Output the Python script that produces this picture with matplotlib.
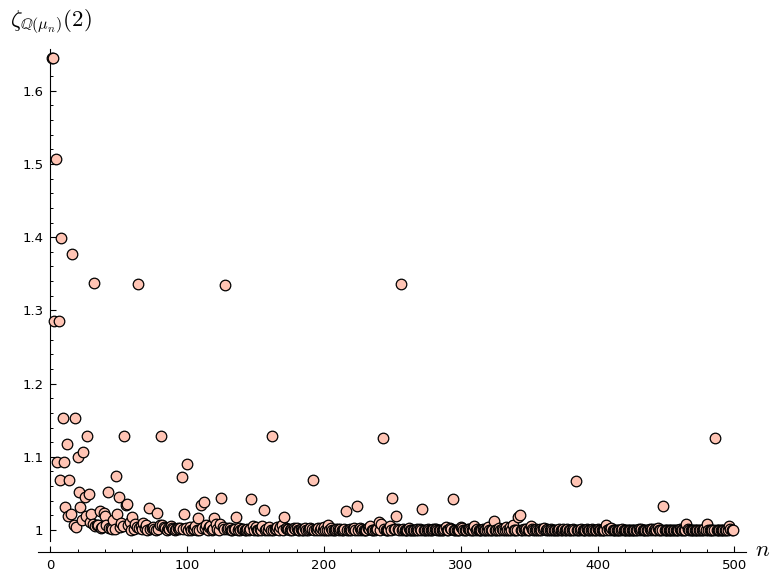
import matplotlib
matplotlib.use("Agg")
import matplotlib.pyplot as plt
from matplotlib.ticker import MultipleLocator, FuncFormatter

# n = 1 .. 499 and the value of zeta_{Q(mu_n)}(2)
n_vals = list(range(1, 500))
zeta_vals = [
    1.6449, 1.6449, 1.2852, 1.5067, 1.0925, 1.2852, 1.0678, 1.3990, 1.1532, 1.0925,
    1.0321, 1.1177, 1.0194, 1.0678, 1.0221, 1.3768, 1.0067, 1.1532, 1.0042, 1.0994,
    1.0513, 1.0321, 1.0138, 1.1063, 1.0454, 1.0194, 1.1284, 1.0493, 1.0104, 1.0221,
    1.0082, 1.3374, 1.0057, 1.0067, 1.0062, 1.0260, 1.0034, 1.0042, 1.0230, 1.0189,
    1.0067, 1.0513, 1.0024, 1.0032, 1.0016, 1.0138, 1.0012, 1.0738, 1.0223, 1.0454,
    1.0039, 1.0102, 1.0052, 1.1284, 1.0344, 1.0360, 1.0068, 1.0104, 1.0005, 1.0176,
    1.0009, 1.0082, 1.0043, 1.3359, 1.0032, 1.0057, 1.0012, 1.0092, 1.0032, 1.0062,
    1.0005, 1.0305, 1.0017, 1.0034, 1.0037, 1.0011, 1.0005, 1.0230, 1.0011, 1.0062,
    1.1279, 1.0067, 1.0036, 1.0024, 1.0002, 1.0024, 1.0009, 1.0059, 1.0031, 1.0016,
    1.0005, 1.0010, 1.0026, 1.0012, 1.0025, 1.0719, 1.0009, 1.0223, 1.0021, 1.0899,
    1.0006, 1.0039, 1.0004, 1.0009, 1.0017, 1.0052, 1.0004, 1.0160, 1.0003, 1.0344,
    1.0031, 1.0382, 1.0025, 1.0068, 1.0007, 1.0041, 1.0057, 1.0005, 1.0020, 1.0169,
    1.0089, 1.0009, 1.0003, 1.0077, 1.0438, 1.0043, 1.0017, 1.3352, 1.0012, 1.0032,
    1.0021, 1.0006, 1.0002, 1.0012, 1.0014, 1.0181, 1.0003, 1.0032, 1.0005, 1.0011,
    1.0013, 1.0005, 1.0002, 1.0013, 1.0001, 1.0017, 1.0423, 1.0049, 1.0002, 1.0037,
    1.0002, 1.0005, 1.0013, 1.0005, 1.0061, 1.0268, 1.0001, 1.0011, 1.0001, 1.0042,
    1.0002, 1.1279, 1.0004, 1.0014, 1.0012, 1.0036, 1.0001, 1.0036, 1.0063, 1.0002,
    1.0172, 1.0029, 1.0015, 1.0009, 1.0003, 1.0009, 1.0003, 1.0031, 1.0014, 1.0022,
    1.0002, 1.0005, 1.0017, 1.0001, 1.0000, 1.0026, 1.0001, 1.0001, 1.0010, 1.0025,
    1.0013, 1.0689, 1.0004, 1.0009, 1.0001, 1.0026, 1.0000, 1.0021, 1.0003, 1.0040,
    1.0005, 1.0006, 1.0072, 1.0007, 1.0027, 1.0004, 1.0002, 1.0001, 1.0011, 1.0017,
    1.0000, 1.0008, 1.0002, 1.0004, 1.0009, 1.0257, 1.0001, 1.0003, 1.0012, 1.0006,
    1.0010, 1.0031, 1.0000, 1.0325, 1.0000, 1.0025, 1.0000, 1.0018, 1.0000, 1.0007,
    1.0006, 1.0022, 1.0011, 1.0057, 1.0002, 1.0003, 1.0003, 1.0020, 1.0010, 1.0103,
    1.0000, 1.0089, 1.1258, 1.0009, 1.0007, 1.0003, 1.0000, 1.0060, 1.0007, 1.0438,
    1.0010, 1.0017, 1.0193, 1.0017, 1.0004, 1.3363, 1.0001, 1.0012, 1.0000, 1.0004,
    1.0006, 1.0021, 1.0000, 1.0004, 1.0002, 1.0002, 1.0002, 1.0018, 1.0000, 1.0014,
    1.0000, 1.0283, 1.0007, 1.0003, 1.0000, 1.0013, 1.0002, 1.0005, 1.0002, 1.0013,
    1.0009, 1.0013, 1.0000, 1.0006, 1.0005, 1.0002, 1.0000, 1.0011, 1.0035, 1.0001,
    1.0002, 1.0021, 1.0009, 1.0423, 1.0000, 1.0004, 1.0000, 1.0002, 1.0007, 1.0035,
    1.0033, 1.0002, 1.0005, 1.0000, 1.0011, 1.0013, 1.0000, 1.0003, 1.0007, 1.0061,
    1.0000, 1.0011, 1.0000, 1.0001, 1.0004, 1.0016, 1.0000, 1.0001, 1.0000, 1.0042,
    1.0005, 1.0002, 1.0007, 1.0126, 1.0000, 1.0004, 1.0002, 1.0024, 1.0006, 1.0012,
    1.0000, 1.0000, 1.0044, 1.0001, 1.0000, 1.0047, 1.0000, 1.0063, 1.0000, 1.0001,
    1.0007, 1.0172, 1.0208, 1.0000, 1.0004, 1.0015, 1.0000, 1.0009, 1.0000, 1.0003,
    1.0055, 1.0013, 1.0000, 1.0003, 1.0008, 1.0003, 1.0000, 1.0014, 1.0007, 1.0010,
    1.0028, 1.0002, 1.0008, 1.0002, 1.0000, 1.0017, 1.0000, 1.0000, 1.0004, 1.0000,
    1.0006, 1.0009, 1.0000, 1.0001, 1.0020, 1.0000, 1.0000, 1.0010, 1.0000, 1.0003,
    1.0001, 1.0013, 1.0000, 1.0669, 1.0000, 1.0004, 1.0000, 1.0015, 1.0000, 1.0001,
    1.0000, 1.0008, 1.0004, 1.0000, 1.0000, 1.0008, 1.0000, 1.0003, 1.0000, 1.0010,
    1.0000, 1.0005, 1.0000, 1.0005, 1.0005, 1.0072, 1.0000, 1.0008, 1.0000, 1.0027,
    1.0004, 1.0000, 1.0005, 1.0002, 1.0000, 1.0000, 1.0001, 1.0011, 1.0006, 1.0006,
    1.0000, 1.0000, 1.0000, 1.0000, 1.0000, 1.0002, 1.0000, 1.0003, 1.0003, 1.0009,
    1.0006, 1.0011, 1.0000, 1.0001, 1.0000, 1.0002, 1.0000, 1.0012, 1.0000, 1.0008,
    1.0003, 1.0010, 1.0006, 1.0029, 1.0000, 1.0000, 1.0000, 1.0327, 1.0000, 1.0000,
    1.0000, 1.0002, 1.0005, 1.0000, 1.0003, 1.0007, 1.0000, 1.0000, 1.0003, 1.0008,
    1.0000, 1.0006, 1.0000, 1.0003, 1.0084, 1.0011, 1.0000, 1.0002, 1.0000, 1.0002,
    1.0001, 1.0000, 1.0005, 1.0003, 1.0000, 1.0002, 1.0000, 1.0010, 1.0000, 1.0079,
    1.0000, 1.0000, 1.0003, 1.0001, 1.0004, 1.1258, 1.0000, 1.0003, 1.0001, 1.0007,
    1.0005, 1.0000, 1.0000, 1.0000, 1.0003, 1.0060, 1.0012, 1.0007, 1.0000,
]

plt.rcParams['mathtext.fontset'] = 'cm'

W, H = 781, 583
fig = plt.figure(figsize=(W / 100, H / 100), dpi=100)
ax = fig.add_axes([38 / W, 1 - 541 / H, (746 - 38) / W, (541 - 49) / H])

ax.scatter(n_vals, zeta_vals, s=58, facecolor='#ffc4b4', edgecolor='black',
           linewidth=0.9, zorder=3, clip_on=False)

ax.set_xlim(-9, 508.5)
ax.set_ylim(0.985, 1.657)

# sage-like axes: y axis through x=0, x axis pushed below the data
ax.spines['top'].set_visible(False)
ax.spines['right'].set_visible(False)
ax.spines['left'].set_position(('data', 0))
ax.spines['bottom'].set_position(('outward', 8))

ax.xaxis.set_major_locator(MultipleLocator(100))
ax.xaxis.set_minor_locator(MultipleLocator(20))
ax.yaxis.set_major_locator(MultipleLocator(0.1))
ax.yaxis.set_minor_locator(MultipleLocator(0.02))
ax.yaxis.set_major_formatter(FuncFormatter(lambda v, p: f"{round(v, 2):g}"))
ax.tick_params(which='major', direction='in', length=4.5, width=0.8,
               labelsize=9.5, pad=5)
ax.tick_params(which='minor', direction='in', length=2.5, width=0.7)

fig.text(10 / W, 1 - 22 / H, r'$\zeta_{\mathbb{Q}(\mu_n)}(2)$', fontsize=16.5,
         ha='left', va='center')
fig.text(763 / W, 1 - 549 / H, r'$n$', fontsize=16.5, ha='center', va='center')

fig.savefig('out.png', dpi=100)
